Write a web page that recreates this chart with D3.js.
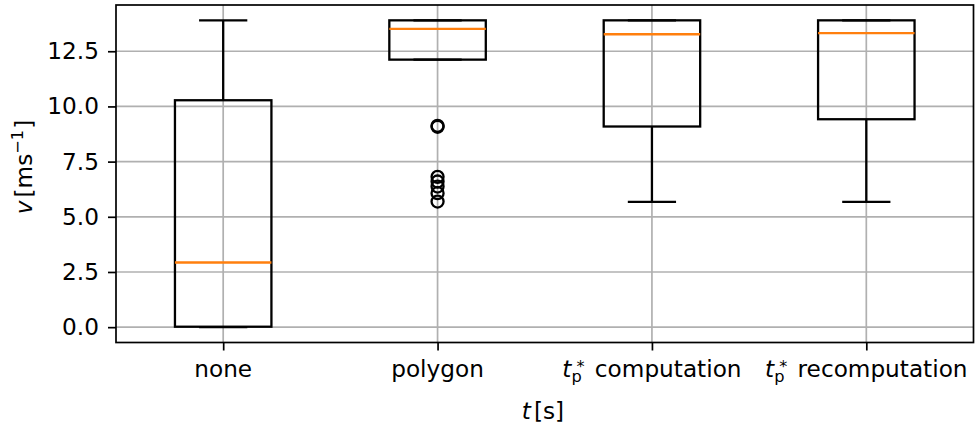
<!DOCTYPE html>
<html>
<head>
<meta charset="utf-8">
<script src="https://cdn.jsdelivr.net/npm/d3@7"></script>
<style>
  html, body { margin: 0; padding: 0; background: #fff; }
  svg { display: block; font-family: "DejaVu Sans", sans-serif; }
</style>
</head>
<body>
<svg id="chart" width="979" height="430"></svg>
<script>
// Method names along the x axis
const categories = ["none", "polygon", "comp", "recomp"];
// Box statistics per method: whisker ends, quartiles and median (m/s)
const whiskerLow  = [0.00, 12.12, 5.68, 5.68];
const quartile1   = [0.02, 12.12, 9.09, 9.42];
const medians     = [2.93, 13.51, 13.27, 13.32];
const quartile3   = [10.28, 13.90, 13.90, 13.90];
const whiskerHigh = [13.90, 13.90, 13.90, 13.90];
// Outlying points per method
const fliers = [[], [9.12, 9.08, 6.81, 6.60, 6.37, 6.07, 5.69], [], []];
// y tick values
const yTicks = [0.0, 2.5, 5.0, 7.5, 10.0, 12.5];

const W = 979, H = 430;
const FS = 23.2;          // base font size
const FSsmall = 16.2;     // sub/superscript size
const margin = { left: 116, right: 5.5, top: 5, bottom: 87.5 };
const x0 = margin.left, x1 = W - margin.right;
const y0 = margin.top, y1 = H - margin.bottom;

const svg = d3.select("#chart");

// x: positions 1..n with half-unit padding
const x = d3.scaleLinear()
  .domain([0.5, categories.length + 0.5])
  .range([x0, x1]);

// y: data extent padded 5% on each side
const allVals = [].concat(whiskerLow, whiskerHigh, ...fliers);
const vmin = d3.min(allVals), vmax = d3.max(allVals);
const pad = (vmax - vmin) * 0.05;
const y = d3.scaleLinear()
  .domain([vmin - pad, vmax + pad])
  .range([y1, y0]);

const gridColor = "#b0b0b0";
const gridW = 1.7, spineW = 1.7, lw = 2.3;
const pos = categories.map((c, i) => i + 1);

// grid
const grid = svg.append("g");
grid.selectAll("line.gy").data(yTicks).join("line")
  .attr("x1", x0).attr("x2", x1)
  .attr("y1", d => y(d)).attr("y2", d => y(d))
  .attr("stroke", gridColor).attr("stroke-width", gridW);
grid.selectAll("line.gx").data(pos).join("line")
  .attr("x1", d => x(d)).attr("x2", d => x(d))
  .attr("y1", y0).attr("y2", y1)
  .attr("stroke", gridColor).attr("stroke-width", gridW);

// boxes
const boxW = 0.45, capW = boxW / 2;
const boxes = svg.append("g");
categories.forEach((c, i) => {
  const p = pos[i];
  const g = boxes.append("g");
  // whiskers
  g.append("line")
    .attr("x1", x(p)).attr("x2", x(p))
    .attr("y1", y(quartile1[i])).attr("y2", y(whiskerLow[i]))
    .attr("stroke", "#000").attr("stroke-width", lw);
  g.append("line")
    .attr("x1", x(p)).attr("x2", x(p))
    .attr("y1", y(quartile3[i])).attr("y2", y(whiskerHigh[i]))
    .attr("stroke", "#000").attr("stroke-width", lw);
  // caps
  [whiskerLow[i], whiskerHigh[i]].forEach(v => {
    g.append("line")
      .attr("x1", x(p - capW / 2)).attr("x2", x(p + capW / 2))
      .attr("y1", y(v)).attr("y2", y(v))
      .attr("stroke", "#000").attr("stroke-width", lw);
  });
  // box
  g.append("rect")
    .attr("x", x(p - boxW / 2))
    .attr("y", y(quartile3[i]))
    .attr("width", x(p + boxW / 2) - x(p - boxW / 2))
    .attr("height", y(quartile1[i]) - y(quartile3[i]))
    .attr("fill", "none").attr("stroke", "#000").attr("stroke-width", lw);
  // median
  g.append("line")
    .attr("x1", x(p - boxW / 2)).attr("x2", x(p + boxW / 2))
    .attr("y1", y(medians[i])).attr("y2", y(medians[i]))
    .attr("stroke", "#ff7f0e").attr("stroke-width", lw);
  // fliers
  g.selectAll("circle").data(fliers[i]).join("circle")
    .attr("cx", x(p)).attr("cy", d => y(d)).attr("r", 6)
    .attr("fill", "none").attr("stroke", "#000").attr("stroke-width", lw);
});

// y axis
const yAxis = svg.append("g")
  .attr("transform", `translate(${x0},0)`)
  .call(d3.axisLeft(y).tickValues(yTicks).tickFormat(d3.format(".1f"))
    .tickSize(8).tickPadding(9));
yAxis.select(".domain").remove();
yAxis.attr("font-size", FS).attr("font-family", "DejaVu Sans");
yAxis.selectAll(".tick line").attr("stroke", "#000").attr("stroke-width", spineW);
yAxis.selectAll(".tick text").attr("fill", "#000");

// x axis
const xAxis = svg.append("g")
  .attr("transform", `translate(0,${y1})`)
  .call(d3.axisBottom(x).tickValues(pos).tickFormat("").tickSize(8));
xAxis.select(".domain").remove();
xAxis.selectAll(".tick line").attr("stroke", "#000").attr("stroke-width", spineW);

// x tick labels (with math markup for t*_p)
const labelY = y1 + 34.5;
function plain(sel, s) { sel.append("tspan").text(s); }
function tp(sel, s) {
  sel.append("tspan").attr("font-style", "italic").text("t");
  sel.append("tspan").attr("font-size", FSsmall).attr("dy", 4.5).text("p");
  sel.append("tspan").attr("font-size", FSsmall).attr("dy", -9.5).attr("dx", -5.3).text("*");
  sel.append("tspan").attr("dy", 5).attr("dx", 3).text(s);
}
const tickLabels = [
  s => plain(s, "none"),
  s => plain(s, "polygon"),
  s => tp(s, " computation"),
  s => tp(s, " recomputation")
];
const xl = svg.append("g").attr("font-size", FS).attr("fill", "#000");
categories.forEach((c, i) => {
  const t = xl.append("text")
    .attr("x", x(pos[i])).attr("y", labelY)
    .attr("text-anchor", "middle");
  tickLabels[i](t);
});

// spines
svg.append("rect")
  .attr("x", x0).attr("y", y0)
  .attr("width", x1 - x0).attr("height", y1 - y0)
  .attr("fill", "none").attr("stroke", "#000").attr("stroke-width", spineW);

// axis titles
const xt = svg.append("text")
  .attr("x", 543).attr("y", 419)
  .attr("text-anchor", "middle").attr("font-size", FS).attr("fill", "#000");
xt.append("tspan").attr("font-style", "italic").text("t");
xt.append("tspan").attr("dx", 3).text("[s]");

const yt = svg.append("text")
  .attr("transform", "translate(32,167) rotate(-90)")
  .attr("text-anchor", "middle").attr("font-size", FS).attr("fill", "#000");
yt.append("tspan").attr("font-style", "italic").text("v");
yt.append("tspan").attr("dx", 3).text("[ms");
yt.append("tspan").attr("font-size", FSsmall).attr("dy", -9).text("\u22121");
yt.append("tspan").attr("dy", 9).attr("dx", 1).text("]");
</script>
</body>
</html>
